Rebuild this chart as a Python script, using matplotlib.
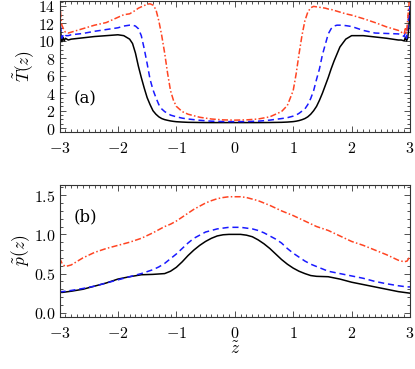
import numpy as np
import matplotlib
matplotlib.use("Agg")
import matplotlib.pyplot as plt
from matplotlib.ticker import MultipleLocator, FuncFormatter

plt.rcParams['font.family'] = 'serif'
plt.rcParams['font.serif'] = ['DejaVu Serif']
plt.rcParams['mathtext.fontset'] = 'cm'

# -----------------------------------------------------------
# Data
# -----------------------------------------------------------
z_left_a = [-3.0, -2.98, -2.96, -2.94, -2.92, -2.9, -2.85, -2.8, -2.6, -2.4,
            -2.2, -2.0, -1.9, -1.8, -1.75, -1.7, -1.65, -1.6, -1.55, -1.5,
            -1.45, -1.4, -1.35, -1.3, -1.25, -1.2, -1.15, -1.1, -1.05, -1.0,
            -0.9, -0.8, -0.6, -0.4, -0.2, 0.0]
z_a = z_left_a + [-v for v in reversed(z_left_a[:-1])]

T_black = [12.8, 11.0, 9.9, 10.4, 10.0, 10.3, 10.1, 10.2, 10.35, 10.5,
           10.6, 10.7, 10.6, 10.2, 9.7, 8.6, 7.1, 5.8, 4.6, 3.5,
           2.7, 2.0, 1.6, 1.3, 1.1, 0.98, 0.9, 0.83, 0.78, 0.74,
           0.7, 0.67, 0.65, 0.64, 0.64, 0.64,
           0.64, 0.64, 0.65, 0.67, 0.7, 0.75, 0.8, 0.87, 0.97, 1.1,
           1.3, 1.6, 2.0, 2.5, 3.2, 4.0, 4.9, 5.8, 6.8, 7.7,
           8.5, 9.3, 10.2, 10.6, 10.6, 10.45, 10.3, 10.1, 10.1, 10.0,
           10.4, 10.0, 10.3, 11.5, 13.5]

T_blue = [12.9, 11.5, 10.3, 10.6, 10.4, 10.6, 10.6, 10.7, 10.85, 11.1,
          11.3, 11.5, 11.7, 11.8, 11.8, 11.7, 11.4, 10.6, 9.1, 7.4,
          5.6, 4.4, 3.5, 2.7, 2.2, 1.9, 1.7, 1.5, 1.4, 1.3,
          1.15, 1.05, 0.9, 0.8, 0.76, 0.75,
          0.76, 0.8, 0.92, 1.1, 1.2, 1.38, 1.5, 1.7, 1.95, 2.2,
          2.7, 3.4, 4.3, 5.6, 6.8, 8.4, 9.6, 10.8, 11.4, 11.7,
          11.8, 11.8, 11.75, 11.65, 11.2, 10.9, 10.85, 10.8, 10.7, 10.5,
          11.0, 10.3, 11.5, 12.8, 14.0]

T_red = [16.0, 13.0, 11.8, 11.5, 11.2, 11.0, 10.9, 11.0, 11.4, 11.8,
         12.1, 12.7, 13.0, 13.1, 13.3, 13.5, 13.75, 13.9, 14.05, 14.2,
         14.25, 14.1, 13.6, 12.3, 10.6, 8.6, 6.3, 4.3, 3.2, 2.5,
         1.9, 1.6, 1.25, 1.05, 0.95, 0.92,
         0.95, 1.05, 1.3, 1.9, 2.6, 4.3, 6.2, 8.5, 10.6, 12.3,
         13.3, 13.8, 13.95, 13.9, 13.85, 13.8, 13.75, 13.65, 13.6, 13.5,
         13.4, 13.3, 13.1, 12.95, 12.55, 12.1, 11.6, 11.2, 11.0, 10.8,
         11.4, 10.9, 12.5, 14.0, 16.0]

z_b = [-3.0, -2.95, -2.9, -2.8, -2.6, -2.4, -2.2, -2.0, -1.8, -1.6,
       -1.4, -1.3, -1.2, -1.1, -1.0, -0.9, -0.8, -0.7, -0.6, -0.5,
       -0.4, -0.3, -0.2, -0.1, 0.0, 0.1, 0.2, 0.3, 0.4, 0.5,
       0.6, 0.7, 0.8, 0.9, 1.0, 1.1, 1.2, 1.3, 1.4, 1.6,
       1.8, 2.0, 2.2, 2.4, 2.6, 2.8, 2.9, 2.95, 3.0]

p_black = [0.26, 0.26, 0.265, 0.275, 0.30, 0.34, 0.38, 0.43, 0.46, 0.485,
           0.49, 0.495, 0.50, 0.53, 0.58, 0.65, 0.73, 0.80, 0.86, 0.91,
           0.95, 0.98, 0.995, 1.0, 1.0, 1.0, 0.99, 0.97, 0.93, 0.88,
           0.82, 0.75, 0.68, 0.62, 0.57, 0.53, 0.50, 0.475, 0.465, 0.46,
           0.43, 0.39, 0.36, 0.33, 0.30, 0.27, 0.26, 0.255, 0.25]

p_blue = [0.27, 0.27, 0.275, 0.285, 0.31, 0.34, 0.38, 0.42, 0.46, 0.50,
          0.55, 0.585, 0.63, 0.69, 0.75, 0.82, 0.89, 0.95, 0.99, 1.03,
          1.05, 1.07, 1.08, 1.09, 1.09, 1.09, 1.08, 1.07, 1.05, 1.02,
          0.98, 0.94, 0.89, 0.82, 0.76, 0.71, 0.66, 0.62, 0.59, 0.53,
          0.50, 0.47, 0.44, 0.40, 0.37, 0.345, 0.335, 0.33, 0.33]

p_red = [0.70, 0.62, 0.59, 0.61, 0.70, 0.77, 0.82, 0.86, 0.90, 0.95,
         1.02, 1.06, 1.10, 1.13, 1.17, 1.22, 1.27, 1.32, 1.36, 1.40,
         1.43, 1.455, 1.47, 1.48, 1.48, 1.48, 1.47, 1.45, 1.43, 1.40,
         1.37, 1.335, 1.30, 1.27, 1.24, 1.205, 1.17, 1.135, 1.10, 1.05,
         0.98, 0.91, 0.86, 0.80, 0.74, 0.67, 0.65, 0.66, 0.72]

blue = '#1a1aff'
red = '#ff4422'

# -----------------------------------------------------------
# Figure
# -----------------------------------------------------------
fig = plt.figure(figsize=(4.15, 3.69), dpi=100)
ax_a = fig.add_axes([0.1434, 0.642, 0.8446, 0.356])
ax_b = fig.add_axes([0.1434, 0.1417, 0.8446, 0.357])

fmt_int = FuncFormatter(lambda v, _: r"$%d$" % round(v))
fmt_dec = FuncFormatter(lambda v, _: r"$%.1f$" % v)

for ax in (ax_a, ax_b):
    ax.set_xlim(-3, 3)
    ax.xaxis.set_major_locator(MultipleLocator(1))
    ax.xaxis.set_minor_locator(MultipleLocator(0.1))
    ax.xaxis.set_major_formatter(fmt_int)
    ax.tick_params(which='both', direction='in', top=True, right=True,
                   labelsize=11.5, width=0.6, colors='#333333', labelcolor='black')
    ax.tick_params(which='major', length=4)
    ax.tick_params(which='minor', length=2)
    ax.tick_params(axis='x', pad=6)
    ax.tick_params(axis='y', pad=3)
    for s in ax.spines.values():
        s.set_linewidth(0.8)
        s.set_color('#333333')

# (a)
ax_a.plot(z_a, T_black, color='black', lw=1.1)
ax_a.plot(z_a, T_blue, color=blue, lw=1.1, ls=(0, (4, 2.5)))
ax_a.plot(z_a, T_red, color=red, lw=1.1, ls=(0, (4, 1.5, 1, 1.5)))
ax_a.set_ylim(-0.45, 14.6)
ax_a.yaxis.set_major_locator(MultipleLocator(2))
ax_a.yaxis.set_minor_locator(MultipleLocator(0.5))
ax_a.yaxis.set_major_formatter(fmt_int)
ax_a.set_ylabel(r"$\tilde{T}(z)$", fontsize=12.5, labelpad=1)
ax_a.text(0.04, 0.22, "(a)", transform=ax_a.transAxes, fontsize=12)

# (b)
ax_b.plot(z_b, p_black, color='black', lw=1.1)
ax_b.plot(z_b, p_blue, color=blue, lw=1.1, ls=(0, (4, 2.5)))
ax_b.plot(z_b, p_red, color=red, lw=1.1, ls=(0, (4, 1.5, 1, 1.5)))
ax_b.set_ylim(-0.05, 1.63)
ax_b.yaxis.set_major_locator(MultipleLocator(0.5))
ax_b.yaxis.set_minor_locator(MultipleLocator(0.1))
ax_b.yaxis.set_major_formatter(fmt_dec)
ax_b.set_ylabel(r"$\tilde{p}(z)$", fontsize=12.5, labelpad=1)
ax_b.set_xlabel(r"$\tilde{z}$", fontsize=12.5, labelpad=-1)
ax_b.text(0.04, 0.72, "(b)", transform=ax_b.transAxes, fontsize=12)

fig.savefig("out.png", dpi=100)
